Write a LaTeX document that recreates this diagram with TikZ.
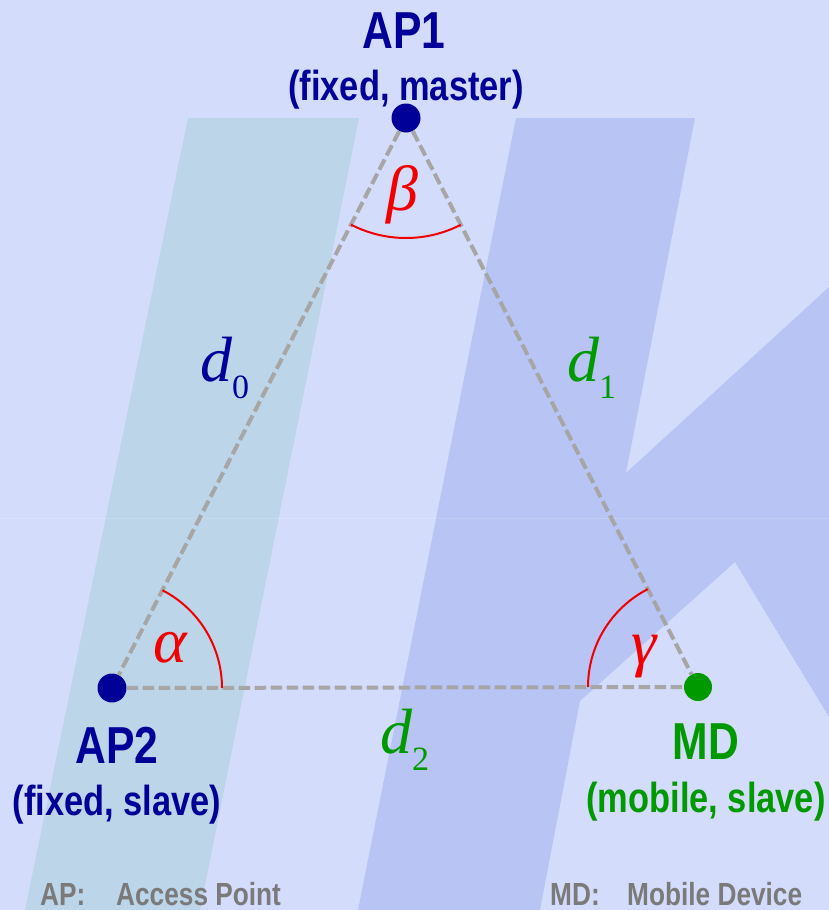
\documentclass[tikz,border=0pt]{standalone}
\usepackage{fontspec}
\newfontfamily\labelfont[FakeStretch=0.82]{Liberation Sans}
\newfontfamily\symbfont{Liberation Serif}
\usetikzlibrary{positioning}
\definecolor{bgblue}{RGB}{212,220,252}
\definecolor{bandteal}{RGB}{188,213,232}
\definecolor{bandlav}{RGB}{184,196,244}
\definecolor{apblue}{RGB}{0,0,153}
\definecolor{mdgreen}{RGB}{0,153,0}
\definecolor{linkgray}{RGB}{166,166,166}
\definecolor{notegray}{RGB}{122,122,122}
\definecolor{anglered}{RGB}{240,0,0}
\tikzset{apdot/.style={circle,fill=apblue,inner sep=0pt,minimum size=29pt},mddot/.style={circle,fill=mdgreen,inner sep=0pt,minimum size=28pt},link/.style={draw=linkgray,line width=4pt,dash pattern=on 11.5pt off 4.5pt},anglearc/.style={draw=anglered,line width=2pt},devname/.style={font=\labelfont\bfseries\fontsize{52}{52}\selectfont,inner sep=0pt,anchor=base},devrole/.style={font=\labelfont\bfseries\fontsize{42}{42}\selectfont,inner sep=0pt,anchor=base},legend/.style={font=\labelfont\bfseries\fontsize{32}{32}\selectfont,text=notegray,inner sep=0pt,anchor=base west},dist/.style={font=\symbfont\fontsize{64}{64}\selectfont,inner sep=0pt,anchor=base west},anglab/.style={font=\symbfont\itshape\fontsize{64}{64}\selectfont,text=anglered,inner sep=0pt,anchor=base}}

\begin{document}
\begin{tikzpicture}[x=1pt,y=-1pt]
\useasboundingbox (0,0) rectangle (829,910);
% watermark
\fill[bgblue] (0,0) rectangle (829,910);
\fill[bandteal] (188,118)--(359,118)--(200,910)--(25,910)--cycle;
\fill[bandlav] (516,118)--(695,118)--(626,473)--(829,287)--(829,717)--(735,562)--(580,701)--(540,910)--(358,910)--cycle;
\draw[white,opacity=0.15,line width=1pt] (0,518)--(829,518);
% stations
\node[apdot] (ap1) at (406,118){};
\node[apdot] (ap2) at (112,688){};
\node[mddot] (md) at (698,687){};
\draw[link] (ap1)--(ap2);
\draw[link] (ap1)--(md);
\draw[link] (ap2)--(md);
% angles
\draw[anglearc] (ap1.center) ++(62.9:120) arc[start angle=62.9,end angle=117.3,radius=120];
\draw[anglearc] (ap2.center) ++(-62.7:110) arc[start angle=-62.7,end angle=0,radius=110];
\draw[anglearc] (md.center) ++(-117.1:110) arc[start angle=-117.1,end angle=-180,radius=110];
\node[anglab] (beta) at (402,210){β};
\node[anglab] (alpha) at (170,662){α};
\node[anglab] (gamma) at (644,664){γ};
% distances
\node[dist,text=apblue] (d0) at (200,381){\itshape d\raisebox{-17pt}{\upshape\fontsize{34}{34}\selectfont 0}};
\node[dist,text=mdgreen] (d1) at (567,381){\itshape d\raisebox{-17pt}{\upshape\fontsize{34}{34}\selectfont 1}};
\node[dist,text=mdgreen] (d2) at (380,753){\itshape d\raisebox{-17pt}{\upshape\fontsize{34}{34}\selectfont 2}};
% labels
\node[devname,text=apblue] (ap1name) at (404,48){AP1};
\node[devrole,text=apblue] (ap1role) at (406,100){(fixed, master)};
\node[devname,text=apblue] (ap2name) at (117,763){AP2};
\node[devrole,text=apblue] (ap2role) at (117,815){(fixed, slave)};
\node[devname,text=mdgreen] (mdname) at (706,759){MD};
\node[devrole,text=mdgreen] (mdrole) at (706,812){(mobile, slave)};
% legend
\node[legend] (apkey) at (40,905){AP:};
\node[legend] (aptext) at (116,905){Access Point};
\node[legend] (mdkey) at (550,905){MD:};
\node[legend] (mdtext) at (627,905){Mobile Device};
\end{tikzpicture}
\end{document}
